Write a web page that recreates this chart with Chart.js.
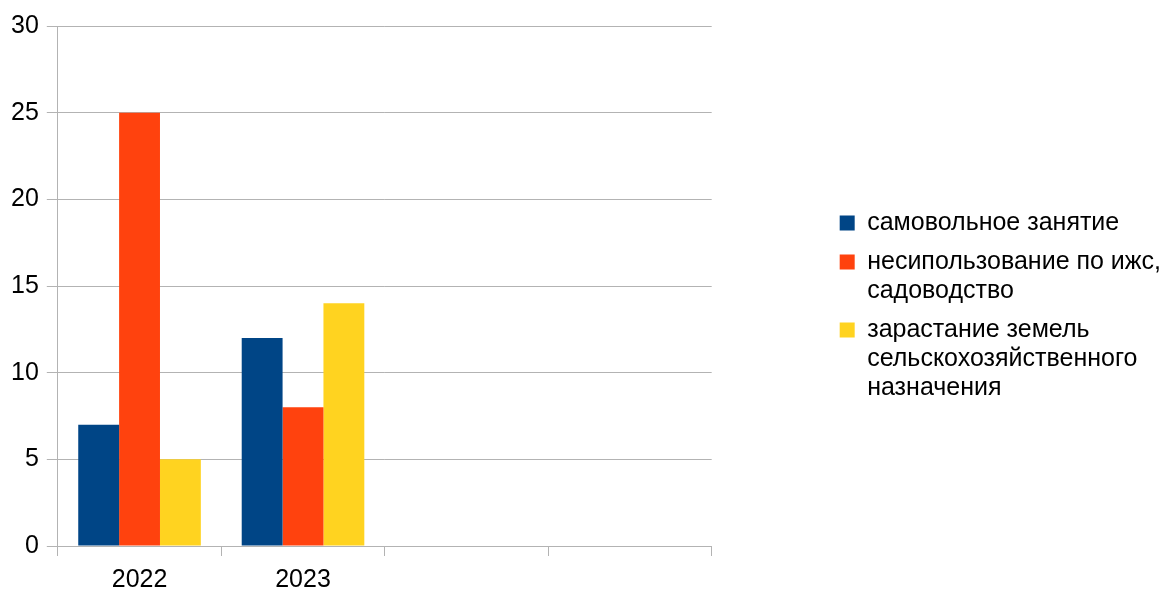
<!DOCTYPE html>
<html>
<head>
<meta charset="utf-8">
<script src="https://cdn.jsdelivr.net/npm/chart.js@4"></script>
<style>
  html, body { margin: 0; padding: 0; background: #fff; }
  #wrap { width: 1171px; height: 589px; }
</style>
</head>
<body>
<div id="wrap"><canvas id="chart"></canvas></div>
<script>
// Data
const categories = ['2022', '2023', '', ''];
const seriesNames = [
    ['самовольное занятие'],
    ['несипользование по ижс,', 'садоводство'],
    ['зарастание земель', 'сельскохозяйственного', 'назначения']
];
const selfOccupation = [7, 12, null, null];
const nonUse = [25, 8, null, null];
const overgrowth = [5, 14, null, null];
const seriesColors = ['#004586', '#ff420e', '#ffd320'];

const gridGray = '#b3b3b3';
const fontFamily = '"Liberation Sans", Arial, sans-serif';

Chart.defaults.font.family = fontFamily;
Chart.defaults.color = '#000';

const values = [selfOccupation, nonUse, overgrowth];

const ctx = document.getElementById('chart').getContext('2d');
new Chart(ctx, {
    type: 'bar',
    data: {
        labels: categories,
        datasets: values.map((v, i) => ({
            label: seriesNames[i].join(' '),
            data: v,
            backgroundColor: seriesColors[i],
            borderWidth: 0,
            barPercentage: 1,
            categoryPercentage: 0.75,
            yAxisID: 'y'
        }))
    },
    options: {
        responsive: true,
        maintainAspectRatio: false,
        animation: false,
        layout: { padding: { top: 26, left: 3, right: 0, bottom: 0 } },
        plugins: {
            tooltip: { enabled: false },
            legend: {
                position: 'right',
                maxWidth: 400,
                labels: {
                    font: { size: 25, lineHeight: 1.16 },
                    boxWidth: 15,
                    boxHeight: 15,
                    padding: 10,
                    color: '#000',
                    generateLabels: (chart) => chart.data.datasets.map((ds, i) => ({
                        text: seriesNames[i],
                        fillStyle: seriesColors[i],
                        strokeStyle: seriesColors[i],
                        lineWidth: 0,
                        hidden: false,
                        datasetIndex: i
                    }))
                }
            }
        },
        scales: {
            x: {
                offset: true,
                grid: {
                    offset: true,
                    color: (c) => (c.index === 0 || c.index === categories.length) ? gridGray : 'rgba(0,0,0,0)',
                    tickColor: gridGray,
                    tickLength: 10,
                    lineWidth: 1
                },
                border: { display: true, color: gridGray },
                ticks: { font: { size: 25, lineHeight: 1 }, color: '#000', padding: 12 },
                afterFit: (s) => { s.height = 43; }
            },
            y: {
                min: 0,
                max: 30,
                ticks: { stepSize: 5, font: { size: 25 }, color: '#000', padding: 8 },
                grid: { color: gridGray, tickLength: 11 },
                border: { display: true, color: gridGray }
            },
            gap: {
                position: 'right',
                display: true,
                ticks: { display: false },
                grid: { display: false },
                border: { display: false },
                afterFit: (s) => { s.width = 118; }
            }
        }
    }
});
</script>
</body>
</html>
